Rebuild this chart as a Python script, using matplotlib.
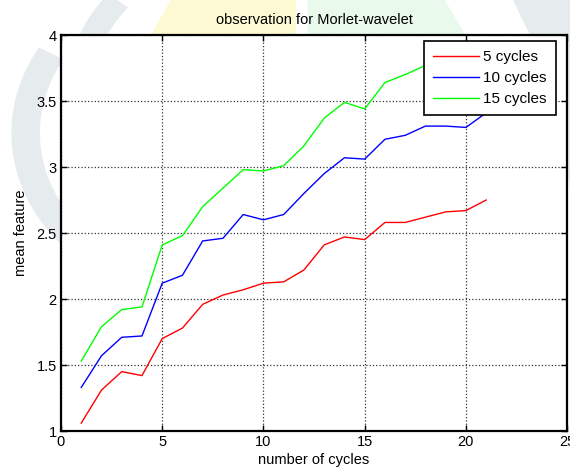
import matplotlib
matplotlib.use('Agg')
import matplotlib.pyplot as plt
from matplotlib.patches import Polygon, Wedge

plt.rcParams['font.family'] = ['Liberation Sans', 'DejaVu Sans']

cycles = list(range(1, 22))
cyc5 = [1.06, 1.31, 1.45, 1.42, 1.70, 1.78, 1.96, 2.03, 2.07, 2.12, 2.13,
        2.22, 2.41, 2.47, 2.45, 2.58, 2.58, 2.62, 2.66, 2.67, 2.75]
cyc10 = [1.33, 1.57, 1.71, 1.72, 2.12, 2.18, 2.44, 2.46, 2.64, 2.60, 2.64,
         2.80, 2.95, 3.07, 3.06, 3.21, 3.24, 3.31, 3.31, 3.30, 3.41]
cyc15 = [1.53, 1.79, 1.92, 1.94, 2.41, 2.48, 2.70, 2.84, 2.98, 2.97, 3.01,
         3.16, 3.37, 3.49, 3.44, 3.64, 3.70, 3.77, 3.82, 3.85, 3.90]
labels = ['5 cycles', '10 cycles', '15 cycles']
colors = ['#ff0000', '#0000ff', '#00ff00']

fig = plt.figure(figsize=(5.7, 4.75), dpi=100)

# faint watermark behind the axes
wm = '#e6ebee'
fig.patches.append(Polygon([[0.30, 1.0], [0.52, 1.0], [0.52, 0.9], [0.25, 0.9]],
                           closed=True, transform=fig.transFigure,
                           facecolor='#fdf9d2', edgecolor='none', zorder=-5))
fig.patches.append(Polygon([[0.54, 1.0], [0.78, 1.0], [0.83, 0.9], [0.54, 0.9]],
                           closed=True, transform=fig.transFigure,
                           facecolor='#e9f9ec', edgecolor='none', zorder=-5))
fig.patches.append(Wedge((0.38, 0.72), 0.36, 150, 250, width=0.05,
                         transform=fig.transFigure, facecolor=wm,
                         edgecolor='none', zorder=-5))
fig.patches.append(Wedge((0.42, 0.82), 0.30, 140, 230, width=0.045,
                         transform=fig.transFigure, facecolor=wm,
                         edgecolor='none', zorder=-5))
fig.patches.append(Polygon([[0.90, 1.0], [1.0, 1.0], [1.0, 0.6], [0.98, 0.8]],
                           closed=True, transform=fig.transFigure,
                           facecolor=wm, edgecolor='none', zorder=-5))

ax = fig.add_axes([0.107, 0.0926, 0.888, 0.8337])
ax.set_facecolor('white')

for y, lab, c in zip([cyc5, cyc10, cyc15], labels, colors):
    ax.plot(cycles, y, color=c, linewidth=1.0, label=lab)

ax.set_xlim(0, 25)
ax.set_ylim(1, 4)
ax.set_xticks([0, 5, 10, 15, 20, 25])
ax.set_yticks([1, 1.5, 2, 2.5, 3, 3.5, 4])
ax.set_yticklabels(['1', '1.5', '2', '2.5', '3', '3.5', '4'])
ax.grid(True, linestyle=':', color='#333333', linewidth=0.9)
ax.tick_params(direction='in', top=True, right=True, length=4, width=1,
               labelsize=10.5, pad=3)
for s in ax.spines.values():
    s.set_linewidth(1.6)

ax.set_title('observation for Morlet-wavelet', fontsize=10.5, pad=8)
ax.set_xlabel('number of cycles', fontsize=10.5, labelpad=3)
ax.set_ylabel('mean feature', fontsize=10.5, labelpad=6)

leg = ax.legend(loc='upper right', bbox_to_anchor=(0.978, 0.985),
                borderaxespad=0, fontsize=11,
                frameon=True, fancybox=False, framealpha=1, borderpad=0.6,
                handlelength=3.0, labelspacing=0.45, handletextpad=0.3)
leg.get_frame().set_edgecolor('black')
leg.get_frame().set_linewidth(1.2)

plt.savefig('out.png', dpi=100)
